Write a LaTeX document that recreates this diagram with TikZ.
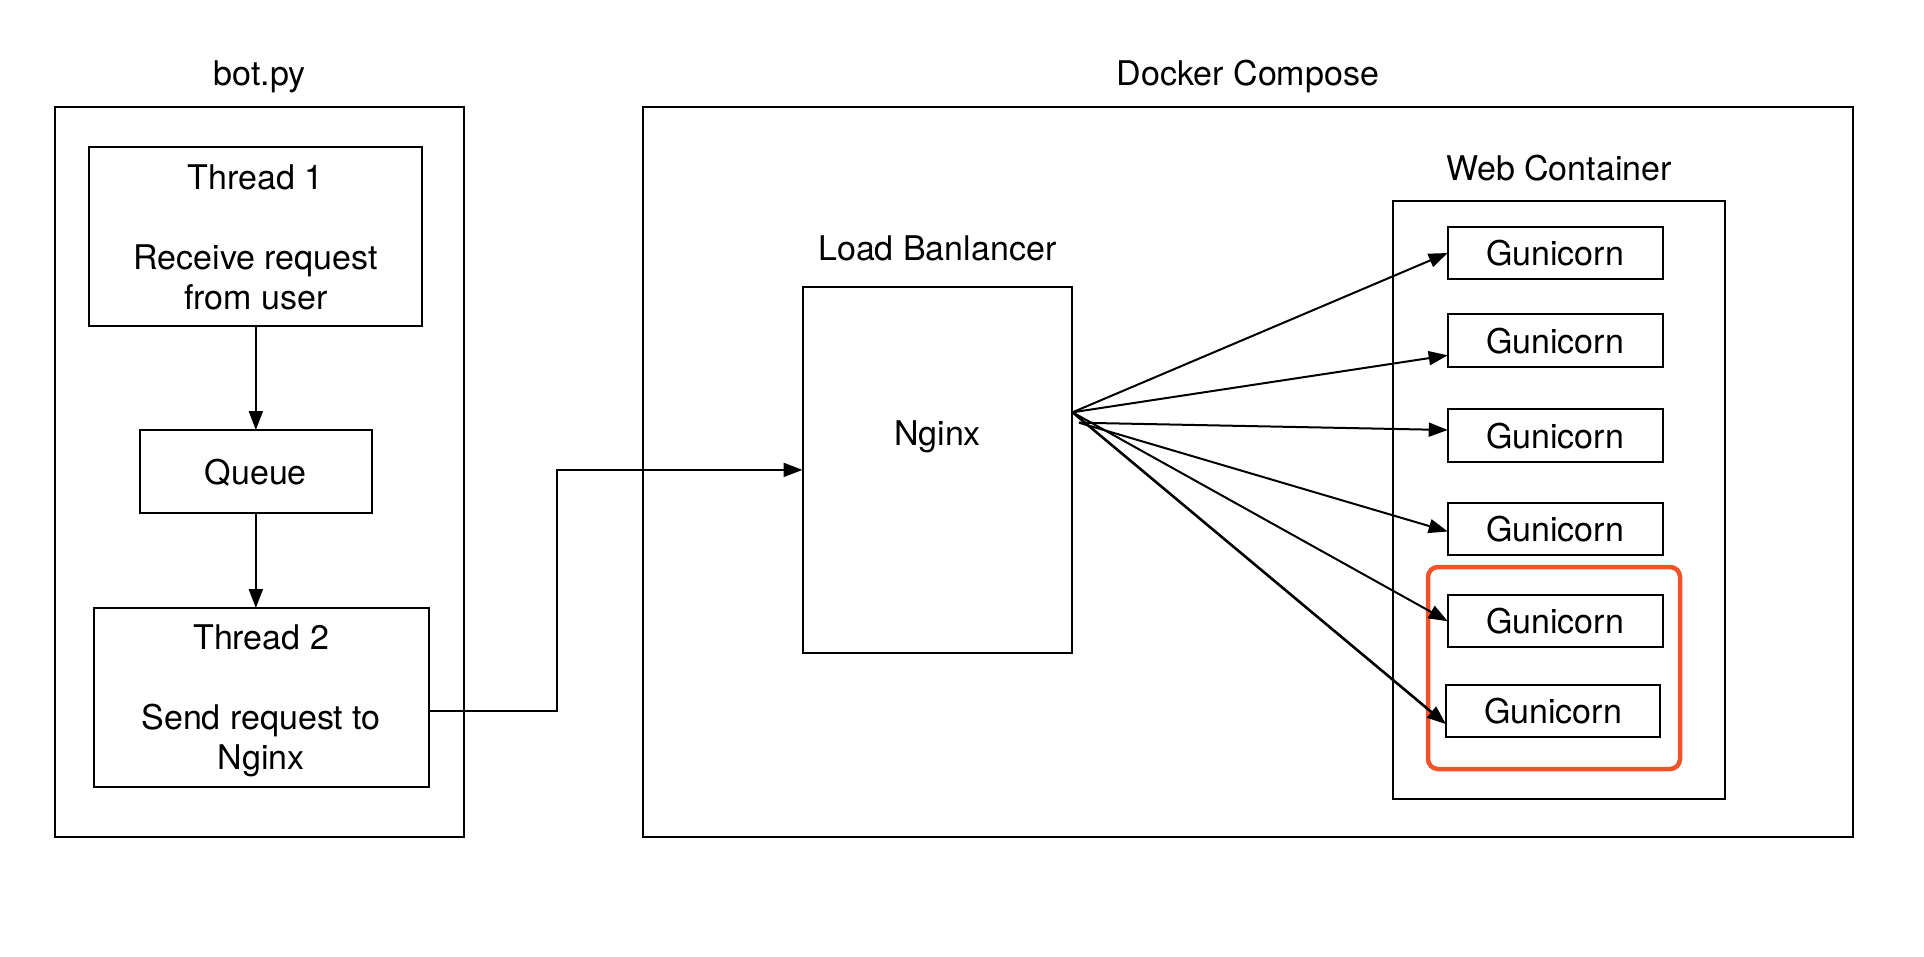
\documentclass[tikz,border=0pt]{standalone}
\usepackage{fontspec}
\setmainfont{TeX Gyre Heros}
\usetikzlibrary{arrows.meta}
\definecolor{hl}{RGB}{240,83,40}
\begin{document}
\begin{tikzpicture}[x=1pt,y=-1pt,
  box/.style={draw, line width=2pt, inner sep=0pt, outer sep=0pt, text depth=0pt, align=center, font=\fontsize{34}{40}\selectfont},
  lbl/.style={anchor=base, inner sep=0pt, font=\fontsize{34}{40}\selectfont},
  arr/.style={line width=2pt, -{Triangle[length=19pt,width=14pt]}}]
\fill[white] (0,0) rectangle (1924,956);
\useasboundingbox (0,0) rectangle (1924,956);

% left container
\node[box, minimum width=409.6pt, minimum height=730.3pt] (bot) at (259.5,471.85) {};
\node[lbl] (botlbl) at (259.5,85.5) {bot.py};
\node[box, minimum width=333pt, minimum height=178.7pt] (thread1) at (255.8,236.65) {Thread 1\\[40pt]Receive request\\from user};
\node[box, minimum width=231.7pt, minimum height=82.7pt] (queue) at (255.85,471.35) {Queue};
\node[box, minimum width=334.7pt, minimum height=178.7pt] (thread2) at (261.15,697.35) {Thread 2\\[40pt]Send request to\\Nginx};
\draw[arr] (thread1.south -| queue.north) -- (queue.north);
\draw[arr] (queue.south) -- (queue.south |- thread2.north);

% right container
\node[box, minimum width=1210pt, minimum height=730.3pt] (docker) at (1248,471.85) {};
\node[lbl] (dockerlbl) at (1248,85.7) {Docker Compose};
\node[box, minimum width=269.5pt, minimum height=365.8pt] (nginx) at (937.25,469.9) {};
\node[lbl] (lblbl) at (937.25,260) {Load Banlancer};
\node[lbl] (nginxlbl) at (937.5,445) {Nginx};
\node[box, minimum width=332.3pt, minimum height=598.5pt] (web) at (1558.85,499.75) {};
\node[lbl] (weblbl) at (1558.85,180) {Web Container};

\foreach \i/\y in {1/253,2/340.3,3/435.5,4/528.8,5/621.2}
  \node[box, minimum width=214.8pt, minimum height=52.5pt] (g\i) at (1555.1,\y) {Gunicorn};
\node[box, minimum width=214pt, minimum height=52.5pt] (g6) at (1553,711.2) {Gunicorn};

\draw[hl, line width=4.5pt, rounded corners=10pt] (1428,567) rectangle (1680,769);

% connector bot -> nginx
\coordinate (t2out) at (428.5,711);
\coordinate (bend) at (557,711);
\draw[arr] (t2out) -- (bend) |- (nginx.west);

% fan
\coordinate (o1) at (1072.5,412.3);
\coordinate (o2) at (1079,422.7);
\draw[arr] (o1) -- (g1.west);
\draw[arr] (o1) -- ([yshift=-15pt]g2.west);
\draw[arr] (o2) -- ([yshift=5.5pt]g3.west);
\draw[arr] (o2) -- ([yshift=-2.7pt]g4.west);
\draw[arr] (o1) -- (g5.west);
\draw[arr, line width=2.6pt] (o1) -- ([yshift=-13pt]g6.west);
\end{tikzpicture}
\end{document}
